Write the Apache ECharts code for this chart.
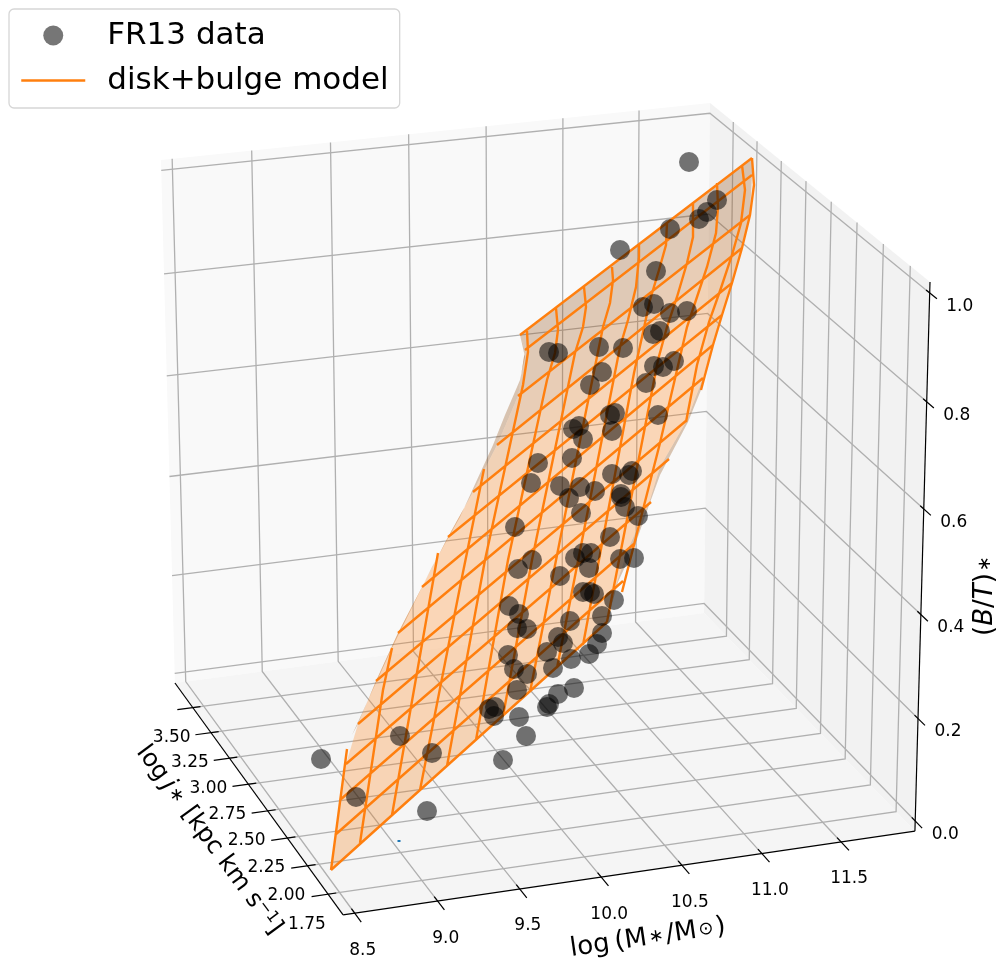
<!DOCTYPE html>
<html><head><meta charset="utf-8">
<style>html,body{margin:0;padding:0;background:#fff}#c{width:1000px;height:963px}</style>
<script src="https://cdn.jsdelivr.net/npm/echarts@6/dist/echarts.min.js"></script>
</head><body><div id="c"></div>
<script>
// ---- chart values -------------------------------------------------------
const xTicks = [8.5, 9.0, 9.5, 10.0, 10.5, 11.0, 11.5];
const yTicks = [1.75, 2.0, 2.25, 2.5, 2.75, 3.0, 3.25, 3.5];
const zTicks = [0, 0.2, 0.4, 0.6, 0.8, 1.0];
const xLimits = [8.43, 11.97];
const yLimits = [1.57, 3.75];
const zLimits = [-0.02, 1.02];
// FR13 galaxies in the projected drawing plane
const frPlaneX = [689,717,707,699,670,620,656,643,654,670,687,660,653,549,558,599,623,602,674,663,654,646,590,
  615,610,658,573,579,583,612,572,538,531,560,580,595,569,581,612,632,629,621,621,625,638,610,515,
  532,518,575,583,591,589,620,634,560,583,590,594,614,602,509,519,517,527,570,558,563,602,597,589,547,571,
  508,514,527,553,517,574,558,549,547,489,495,494,519,526,400,432,321,356,427,503];
const frPlaneY = [162,200,212,219,229,250,271,307,304,313,311,331,334,352,353,347,348,372,361,367,366,383,385,
  413,415,415,429,426,439,431,458,463,483,486,487,491,498,513,474,471,475,494,497,507,516,537,527,
  560,569,558,553,553,568,559,558,576,592,592,594,600,616,606,614,628,629,621,637,643,633,644,654,652,659,
  655,669,674,668,690,688,694,704,707,709,707,716,717,736,736,753,759,797,811,760];
// stray mark of the empty first series
const strayX = [399];
const strayY = [841];
// model surface: row lines (left end, right end)
const rowLeftX  = [520,525,518,497,473,448,422,398,376,358,346,340,335,331];
const rowLeftY  = [335,350,396,445,492,537,587,633,681,724,764,800,835,870];
const rowRightX = [752,752,750,742,732,722,713,703,687,669,651,635,623,607];
const rowRightY = [158,175,215,248,283,315,345,378,420,459,502,543,581,622];
// where the shaded face stops along each row (the lines overshoot it)
const rowFillRightX = [752,752,750,742,732,722,713,703,687,660,649,628,615,607];
const rowFillRightY = [158,175,215,248,283,315,345,378,420,467,503,549,588,622];
const rowShade = [0.55,0.62,0.75,0.88,0.97,1,1,1,1,1,1,1,0.95];
// model surface: column lines
const columnLines = [
  [[331,870],[347,749]],
  [[360,843],[383,690],[392,648]],
  [[392,815],[438,553]],
  [[420,790],[460,587],[484,469]],
  [[447,766],[485,560],[523,385],[528,352],[527,331]],
  [[476,740],[508,560],[547,380],[555,353],[558,330],[556,308]],
  [[503,716],[532,560],[575,353],[583,327],[586,307],[584,287]],
  [[530,692],[560,540],[603,327],[610,303],[613,280],[612,267]],
  [[557,668],[620,347],[628,320],[636,287],[639,257],[639,245]],
  [[583,645],[634,373],[642,337],[650,300],[659,270],[666,245],[667,223]],
  [[607,622],[658,360],[667,327],[677,297],[687,263],[693,237],[693,203]],
  [[622,592],[637,533],[660,443],[687,327],[697,297],[707,267],[716,233],[718,207],[717,183]],
  [[686,422],[697,365],[709,322],[721,288],[732,255],[741,223],[745,190],[742,165]],
  [[701,390],[713,345],[722,315],[732,283],[742,248],[750,215],[754,185],[752,158]]
];
// back-facing strips of the surface
const leftStrip = [[520,335],[525,357],[520,380],[505,415],[493,445],[460,517],[432,567],[392,648],[352,735],[358,724],[376,681],[398,633],[422,587],[448,537],[473,492],[497,445],[518,396],[525,350]];
const rightStrip = [[703,378],[701,390],[688,422],[660,475],[648,508],[635,545],[618,582],[607,622],[615,588],[628,549],[649,503],[660,467],[687,420]];
// ---- camera calibration: pane corners [cubeX,cubeY,cubeZ,screenX,screenY] --
const paneCorners = [[0,0,0,343,915],[1,0,0,915,831],[0,1,0,175,683],[1,1,0,704,613],[0,1,1,161,160],[1,1,1,710,103],[1,0,1,930,282]];

function solveCamera(c){
  const rowsA=[],rhs=[];
  c.forEach(([X,Y,Z,u,v])=>{u/=1000;v/=1000;
    rowsA.push([X,Y,Z,1,0,0,0,0,-u*X,-u*Y,-u*Z]);rhs.push(u);
    rowsA.push([0,0,0,0,X,Y,Z,1,-v*X,-v*Y,-v*Z]);rhs.push(v);});
  const n=11,N=[];
  for(let i=0;i<n;i++){N[i]=new Array(n+1).fill(0);
    for(let j=0;j<n;j++)rowsA.forEach(r=>N[i][j]+=r[i]*r[j]);
    rowsA.forEach((r,k)=>N[i][n]+=r[i]*rhs[k]);}
  for(let i=0;i<n;i++){let p=i;for(let k=i+1;k<n;k++)if(Math.abs(N[k][i])>Math.abs(N[p][i]))p=k;
    [N[i],N[p]]=[N[p],N[i]];
    for(let k=0;k<n;k++)if(k!==i){const f=N[k][i]/N[i][i];for(let j=i;j<=n;j++)N[k][j]-=f*N[i][j];}}
  return N.map((r,i)=>r[n]/r[i]);
}
const cam=solveCamera(paneCorners);
function cube(X,Y,Z){const w=cam[8]*X+cam[9]*Y+cam[10]*Z+1;
  return [1000*(cam[0]*X+cam[1]*Y+cam[2]*Z+cam[3])/w,1000*(cam[4]*X+cam[5]*Y+cam[6]*Z+cam[7])/w];}
const nx=v=>(v-xLimits[0])/(xLimits[1]-xLimits[0]);
const ny=v=>(v-yLimits[0])/(yLimits[1]-yLimits[0]);
const nz=v=>(v-zLimits[0])/(zLimits[1]-zLimits[0]);

// geometry on the plane
const paneFaces=[
  {pts:[cube(0,1,0),cube(1,1,0),cube(1,1,1),cube(0,1,1)],fill:'#f9f9f9'},
  {pts:[cube(1,1,0),cube(1,0,0),cube(1,0,1),cube(1,1,1)],fill:'#f2f2f2'},
  {pts:[cube(0,0,0),cube(1,0,0),cube(1,1,0),cube(0,1,0)],fill:'#f5f5f5'}];
const gridPaths=[];
xTicks.forEach(t=>{const a=nx(t);gridPaths.push([cube(a,0,0),cube(a,1,0),cube(a,1,1)]);});
yTicks.forEach(t=>{const a=ny(t);gridPaths.push([cube(0,a,0),cube(1,a,0),cube(1,a,1)]);});
zTicks.forEach(t=>{const a=nz(t);gridPaths.push([cube(0,1,a),cube(1,1,a),cube(1,0,a)]);});
const axisPaths=[[cube(0,0,0),cube(1,0,0)],[cube(0,0,0),cube(0,1,0)],[cube(1,0,0),cube(1,0,1)]];
const tickPaths=[];
xTicks.forEach(t=>{const a=nx(t);tickPaths.push([cube(a,-0.035,0),cube(a,0.018,0)]);});
yTicks.forEach(t=>{const a=ny(t);tickPaths.push([cube(-0.028,a,0),cube(0.014,a,0)]);});
zTicks.forEach(t=>{const a=nz(t);tickPaths.push([cube(1,-0.03,a),cube(1,0.015,a)]);});

const faceBands=[];
for(let i=0;i<rowLeftX.length-1;i++){
  faceBands.push({pts:[[rowLeftX[i],rowLeftY[i]],[rowFillRightX[i],rowFillRightY[i]],[rowFillRightX[i+1],rowFillRightY[i+1]],[rowLeftX[i+1],rowLeftY[i+1]]],
    fill:`rgba(${Math.round(255*rowShade[i])},${Math.round(127*rowShade[i])},${Math.round(14*rowShade[i])},0.28)`});
}
const wireData=[];
rowLeftX.forEach((x,i)=>{wireData.push([x,rowLeftY[i]],[rowRightX[i],rowRightY[i]],[NaN,NaN]);});
columnLines.forEach(l=>{l.forEach(p=>wireData.push(p));wireData.push([NaN,NaN]);});

function polySeries(polys,style,closed,z){
  return {type:'custom',coordinateSystem:'cartesian2d',silent:true,clip:false,z,legendHoverLink:false,
    data:polys.map((p,i)=>[i,0]),
    renderItem(params,api){
      const p=polys[params.dataIndex],pts=(p.pts||p).map(q=>api.coord(q));
      return {type:closed?'polygon':'polyline',shape:{points:pts},
        style:closed?{fill:p.fill||style.fill,stroke:null}:{fill:null,stroke:style.stroke,lineWidth:style.lineWidth}};
    }};
}
const FONT='DejaVu Sans';
const tickLabelItems=[];
xTicks.forEach(t=>{const p=cube(nx(t),0,0);tickLabelItems.push({p:[p[0]+8,p[1]+37],text:t.toFixed(1)});});
yTicks.forEach(t=>{const p=cube(0,ny(t),0);tickLabelItems.push({p:[p[0]-21,p[1]+30],text:t.toFixed(2)});});
zTicks.forEach(t=>{const p=cube(1,0,nz(t));tickLabelItems.push({p:[p[0]+30,p[1]+13.5],text:t.toFixed(1)});});
const rich={r:{fontSize:26,fontFamily:FONT,color:'#000'},i:{fontSize:26,fontFamily:FONT,fontStyle:'italic',color:'#000'},
  a:{fontSize:24.5,fontFamily:FONT,color:'#000'},b:{fontSize:24.5,fontFamily:FONT,fontStyle:'italic',color:'#000'},
  s:{fontSize:18,fontFamily:FONT,color:'#000',padding:[0,2,0,2]},u:{fontSize:16,fontFamily:FONT,color:'#000',padding:[0,0,10,0]}};
const titles=[
  {p:[648,938],rot:0.145,text:'{r|log\u2009(M}{s|\u2217}{r|/M}{s|\u2299}{r|)}'},
  {p:[209,840],rot:-0.935,text:'{a|log\u2009}{b|j}{s|\u2217}{a| [kpc km s}{u|\u22121}{a|]}'},
  {p:[985,595],rot:Math.PI/2,text:'{r|(}{i|B}{r|/}{i|T}{r|)}{s|\u2217}'}];
const textSeries=(items,z)=>({type:'custom',coordinateSystem:'cartesian2d',silent:true,clip:false,z,
  data:items.map((p,i)=>[i,0]),
  renderItem(params,api){const it=items[params.dataIndex],c=api.coord(it.p);
    return {type:'text',x:c[0],y:c[1],rotation:it.rot||0,originX:0,originY:0,
      style:it.rot!==undefined?{text:it.text,rich,align:'center',verticalAlign:'middle'}
        :{text:it.text,fontSize:17,fontFamily:FONT,fill:'#000',align:'center',verticalAlign:'middle'}};
  }});

const chart=echarts.init(document.getElementById('c'),null,{renderer:'canvas'});
chart.setOption({
  animation:false,backgroundColor:'#fff',
  grid:{left:0,right:0,top:0,bottom:0},
  xAxis:{type:'value',min:0,max:1000,show:false},
  yAxis:{type:'value',min:0,max:963,inverse:true,show:false},
  legend:{left:9,top:9,orient:'vertical',padding:[11,11,12,11],itemWidth:64,itemHeight:20,itemGap:14,
    backgroundColor:'#fff',borderColor:'#d6d6d6',borderWidth:1.3,borderRadius:5,
    textStyle:{fontFamily:FONT,fontSize:31,color:'#000',padding:[0,0,0,17]},
    data:[{name:'FR13 data',itemStyle:{color:'#767676',opacity:1}},{name:'disk+bulge model',itemStyle:{opacity:0},lineStyle:{color:'#ff7f0e',width:2.5}}],selectedMode:false},
  series:[
    polySeries(paneFaces,{},true,1),
    polySeries(gridPaths,{stroke:'#b0b0b0',lineWidth:1.3},false,2),
    polySeries(axisPaths,{stroke:'#000',lineWidth:1.2},false,3),
    polySeries(tickPaths,{stroke:'#000',lineWidth:1.2},false,3),
    textSeries(tickLabelItems,3),
    textSeries(titles,3),
    polySeries([{pts:leftStrip,fill:'rgba(140,70,8,0.3)'},{pts:rightStrip,fill:'rgba(140,70,8,0.3)'}],{},true,4),
    polySeries(faceBands,{},true,5),
    {name:'disk+bulge model',type:'line',data:wireData,showSymbol:false,symbol:'none',connectNulls:false,clip:false,z:6,silent:true,
      lineStyle:{color:'#ff7f0e',width:2.4,cap:'butt',join:'miter'},itemStyle:{color:'#ff7f0e'}},
    {name:'FR13 data',type:'scatter',data:frPlaneX.map((x,i)=>[x,frPlaneY[i]]),symbolSize:20,z:7,silent:true,clip:false,
      itemStyle:{color:'#000',opacity:0.54}},
    {name:'stray',type:'scatter',data:strayX.map((x,i)=>[x,strayY[i]]),symbol:'rect',symbolSize:[3,2],z:7,silent:true,itemStyle:{color:'#1f77b4',opacity:1}}
  ]
});
</script></body></html>
